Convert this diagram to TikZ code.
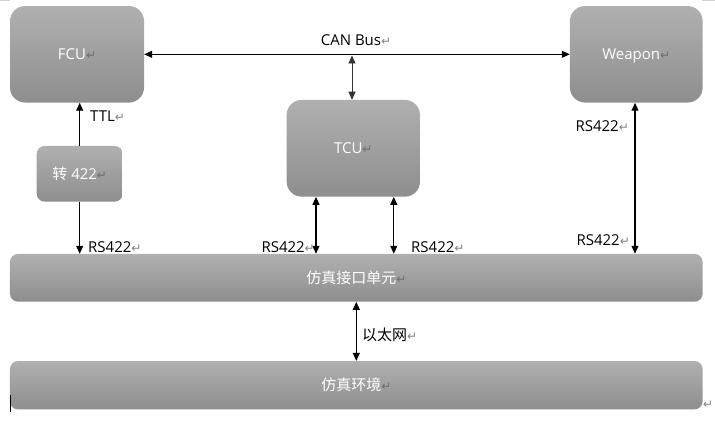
\documentclass[tikz,border=0pt]{standalone}
\usepackage{fontspec}
\setmainfont{Open Sans}
\newfontfamily\cjk{Noto Sans CJK SC}
\newfontfamily\dvs{DejaVu Sans}
\usetikzlibrary{arrows.meta}
\definecolor{boxtop}{RGB}{176,176,176}
\definecolor{boxbot}{RGB}{142,142,142}
\definecolor{markgray}{RGB}{130,130,130}
\definecolor{markin}{RGB}{110,110,110}
\newcommand\pmk[1][markgray]{{\dvs\fontsize{12}{12}\selectfont\textcolor{#1}{↵}}}
\tikzset{
  box/.style={rounded corners=#1, top color=boxtop, bottom color=boxbot, draw=none,
    text=white, inner sep=0pt, text height=10.4pt, text depth=0pt,
    font=\fontsize{15}{16}\selectfont},
  box/.default=15pt,
  lbl/.style={inner sep=0pt, font=\fontsize{15}{16}\selectfont, text=black},
  tipT/.tip={Triangle[length=8pt,width=7pt]},
  conn/.style={line width=1.1pt, black},
}
\begin{document}
\begin{tikzpicture}[x=1pt,y=-1pt]
\useasboundingbox (0,0) rectangle (715,425);
% boxes
\node[box, minimum width=134pt, minimum height=96.5pt] (fcu) at (77,54.3) {FCU\pmk[markin]};
\node[box, minimum width=132.7pt, minimum height=96.5pt] (wpn) at (636.3,54.3) {Weapon\pmk[markin]};
\node[box, minimum width=133.3pt, minimum height=96.7pt] (tcu) at (353.3,148.3) {TCU\pmk[markin]};
\node[box=8pt, minimum width=86pt, minimum height=55.7pt] (zh) at (79.7,173.8) {{\cjk 转} 422\pmk[markin]};
\node[box=8pt, minimum width=692.7pt, minimum height=47.7pt] (sim) at (356.3,277.8) {{\cjk 仿真接口单元}\pmk[markin]};
\node[box=8pt, minimum width=692.7pt, minimum height=48.3pt] (env) at (356.3,385.2) {{\cjk 仿真环境}\pmk[markin]};
% connectors
\draw[conn, tipT-tipT] (fcu.east) -- (wpn.west);
\coordinate (cb) at (352,55.5);
\draw[line width=0.9pt, black!80, tipT-tipT] (cb) -- (cb |- tcu.north);
\draw[conn, -tipT] (zh.north) -- (zh.north |- fcu.south);
\draw[conn, -tipT] (zh.south) -- (zh.south |- sim.north);
\coordinate (t1) at ([xshift=-37.3pt]tcu.south);
\coordinate (t2) at ([xshift=40.5pt]tcu.south);
\draw[conn, tipT-tipT] (t1) -- (t1 |- sim.north);
\draw[conn, tipT-tipT] (t2) -- (t2 |- sim.north);
\coordinate (w1) at ([xshift=-1.3pt]wpn.south);
\draw[conn, tipT-tipT] (w1) -- (w1 |- sim.north);
\draw[conn, tipT-tipT] (sim.south) -- (env.north);
% labels
\node[lbl, anchor=base] (lcan) at (356,46) {CAN Bus\pmk};
\node[lbl, anchor=base west] (lttl) at (90,122) {TTL\pmk};
\node[lbl, anchor=base west] (l1) at (88,252) {RS422\pmk};
\node[lbl, anchor=base east] (l2) at (315,252) {RS422\pmk};
\node[lbl, anchor=base west] (l3) at (411,252) {RS422\pmk};
\node[lbl, anchor=base east] (l4) at (629,132) {RS422\pmk};
\node[lbl, anchor=base east] (l5) at (630,245) {RS422\pmk};
\node[lbl, anchor=base west] (leth) at (362,340) {{\cjk 以太网}\pmk};
% page artefacts
\fill[gray!35] (0,0) rectangle (10,1.2);
\fill[gray!35] (702,0) rectangle (715,1.2);
\draw[black, line width=1pt] (10,395) -- (10,411.5);
\node[lbl, anchor=base west] (lend) at (703,408) {\pmk};
\end{tikzpicture}
\end{document}
